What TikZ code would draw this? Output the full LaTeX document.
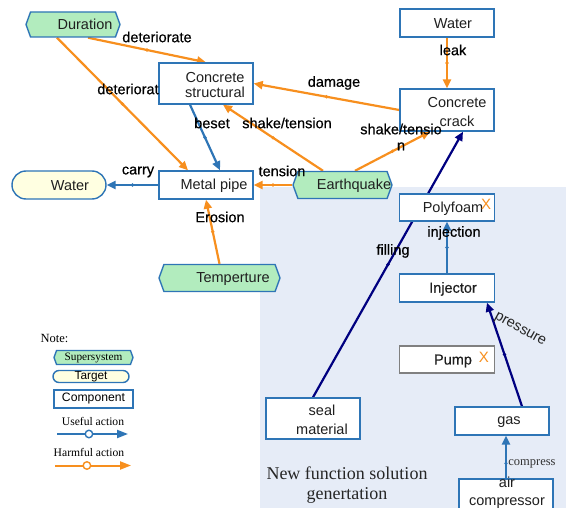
\documentclass[tikz,border=0pt]{standalone}
\usepackage{fontspec}
\setmainfont{Liberation Sans}
\newfontfamily\serifface{Liberation Serif}
\newfontfamily\heavyface{Liberation Sans}[FakeBold=0.5]
\usetikzlibrary{shapes.symbols,shapes.misc,arrows.meta,calc}

\definecolor{harm}{RGB}{247,143,30}
\definecolor{useful}{RGB}{46,117,182}
\definecolor{navyline}{RGB}{0,0,128}
\definecolor{sgreen}{RGB}{178,236,190}
\definecolor{tyellow}{RGB}{255,255,225}
\definecolor{bgblue}{RGB}{230,236,247}
\definecolor{pumpgray}{RGB}{128,128,128}

\pgfdeclarelayer{back}
\pgfdeclarelayer{edges}
\pgfsetlayers{back,edges,main}

\tikzset{
  comp/.style={draw=useful, fill=white, line width=1.4pt, inner sep=0pt,
    minimum width=94pt, minimum height=28pt},
  supsys/.style={shape=signal, signal to=west and east, signal pointer angle=140,
    draw=useful, fill=sgreen, line width=1.4pt, inner sep=0pt,
    minimum width=94pt, minimum height=27pt},
  target/.style={shape=rounded rectangle, draw=useful, fill=tyellow,
    line width=1.4pt, inner sep=0pt, minimum width=94pt, minimum height=28pt},
  boxtext/.style={font=\fontsize{14.5}{18.5}\selectfont, align=center,
    inner sep=0pt, text=black!88},
  lbl/.style={font=\heavyface\fontsize{14.5}{16}\selectfont, inner sep=0pt,
    align=center},
  dot/.style={circle, fill, inner sep=0pt, minimum size=3.6pt},
  tip/.style={-{Triangle[length=9pt,width=8pt]}},
  harmful/.style={color=harm, line width=2.2pt, tip},
  usefularr/.style={color=useful, line width=2.2pt, tip},
  navyarr/.style={color=navyline, line width=2.2pt, tip},
  xmark/.style={text=harm, font=\fontsize{15}{15}\selectfont, inner sep=0pt},
  legendtext/.style={font=\serifface\fontsize{11.6}{13}\selectfont, inner sep=0pt},
  ring/.style={circle, draw, fill=white, line width=1.4pt, minimum size=7.5pt, inner sep=0pt},
}

\begin{document}
\begin{tikzpicture}[x=1pt,y=-1pt]
\useasboundingbox (0,0) rectangle (566,508);

% shaded area of the new solution
\begin{pgfonlayer}{back}
  \fill[bgblue] (260,187) rectangle (566,508);
\end{pgfonlayer}

% supersystem elements
\node[supsys, minimum height=25pt] (dur) at (73,24.5) {};
\node[boxtext] (durt) at (85,24.5) {Duration};
\node[supsys, minimum width=99pt] (quake) at (342.5,185) {};
\node[boxtext] (quaket) at (354,186) {Earthquake};
\node[supsys, minimum width=121pt] (temp) at (219.5,278) {};
\node[boxtext] (tempt) at (233,279) {Temperture};

% target
\node[target] (wtarget) at (59,185) {};
\node[boxtext] (wtargett) at (70,186) {Water};

% components
\node[comp, minimum height=41pt] (cs) at (206,83.5) {};
\node[boxtext, font=\fontsize{14.5}{15.5}\selectfont] (cst) at (215,85) {Concrete\\structural};
\node[comp] (wtop) at (447,23) {};
\node[boxtext] (wtopt) at (453,24) {Water};
\node[comp, minimum height=42pt] (crack) at (447,110) {};
\node[boxtext] (crackt) at (457,112) {Concrete\\crack};
\node[comp] (pipe) at (206,185) {};
\node[boxtext] (pipet) at (214,186) {Metal pipe};
\node[comp, minimum width=95pt, minimum height=27pt] (poly) at (447,207.5) {};
\node[boxtext] (polyt) at (453,208.5) {Polyfoam};
\node[xmark] (polyx) at (486,204) {X};
\node[comp, minimum width=95pt] (inj) at (447,288) {};
\node[boxtext, font=\heavyface\fontsize{14.5}{18.5}\selectfont] (injt) at (453,289) {Injector};
\node[comp, draw=pumpgray, minimum width=95pt, minimum height=27pt] (pump) at (447,359.5) {};
\node[boxtext, font=\heavyface\fontsize{14.5}{18.5}\selectfont] (pumpt) at (453,361) {Pump};
\node[xmark] (pumpx) at (484,357) {X};
\node[comp, minimum height=41pt] (seal) at (313,418.5) {};
\node[boxtext] (sealt) at (322,420) {seal\\material};
\node[comp] (gas) at (502,421) {};
\node[boxtext] (gast) at (509,422) {gas};
\node[comp, minimum height=41pt] (air) at (506,499.5) {};
\node[boxtext] (airt) at (507,493) {air\\compressor};

% actions
\begin{pgfonlayer}{edges}
  \draw[harmful] ($(dur.south)+(15,0)$) -- node[dot]{} (cs.north);
  \draw[harmful] ($(dur.south)+(-16,0)$) -- node[dot]{} ($(pipe.north)+(-18,0)$);
  \draw[usefularr] ($(cs.south)+(-16,0)$) -- node[dot]{} ($(pipe.north)+(14,0)$);
  \draw[harmful] ($(quake.north)+(-19.5,0)$) -- node[dot]{} ($(cs.south)+(17,0)$);
  \draw[harmful] (crack.west) -- node[dot]{} (cs.east);
  \draw[harmful] ($(quake.north)+(12.5,0)$) -- node[dot]{} ($(crack.south)+(-17,0)$);
  \draw[harmful] (wtop.south) -- node[dot]{} (crack.north);
  \draw[harmful] (quake.west) -- node[dot]{} (pipe.east);
  \draw[usefularr] (pipe.west) -- node[dot]{} (wtarget.east);
  \draw[harmful] (temp.north) -- node[dot]{} (pipe.south);
  \draw[navyarr] (seal.north) -- node[dot]{} ($(crack.south)+(16,0)$);
  \draw[usefularr] (inj.north) -- node[dot]{} (poly.south);
  \draw[navyarr] ($(gas.north)+(20,0)$) -- node[dot]{} ($(inj.south)+(40,0)$);
  \draw[usefularr] (air.north) -- node[dot, pos=0.35]{} ($(gas.south)+(4,0)$);
\end{pgfonlayer}

% action labels
\node[lbl] (l1) at (157,37) {deteriorate};
\node[lbl] (l2) at (128,89) {deteriorat};
\node[lbl] (l3) at (212,123) {beset};
\node[lbl] (l4) at (287,123) {shake/tension};
\node[lbl] (l5) at (334,83) {damage};
\node[lbl] (l6) at (401,137) {shake/tensio\\n};
\node[lbl] (l7) at (453,50) {leak};
\node[lbl] (l8) at (282,171) {tension};
\node[lbl] (l9) at (138,172) {carry};
\node[lbl] (l10) at (220,217) {Erosion};
\node[lbl] (l11) at (393,251) {filling};
\node[lbl] (l12) at (454,233) {injection};
\node[inner sep=0pt, rotate=-29, text=black!85, font=\fontsize{14.5}{16}\selectfont] (l13) at (520,330) {pressure};
\node[inner sep=0pt, text=black!80, font=\serifface\fontsize{12.5}{13}\selectfont] (l14) at (532,464) {compress};

\node[inner sep=0pt, align=center, text=black!85, font=\serifface\fontsize{18}{20}\selectfont] (caption) at (347,485) {New function solution\\genertation};

% legend
\node[legendtext, font=\serifface\fontsize{12.5}{13}\selectfont] (note) at (54.5,338) {Note:};
\node[supsys, minimum width=79pt, minimum height=14pt, font=\serifface\fontsize{11.3}{12}\selectfont] (lgs) at (93.5,357.5) {Supersystem};
\node[target, minimum width=76pt, minimum height=12pt, font=\fontsize{11.8}{12}\selectfont] (lgt) at (91,376.5) {Target};
\node[comp, minimum width=79pt, minimum height=18pt, font=\fontsize{12.2}{13}\selectfont] (lgc) at (93.5,399) {Component};
\node[legendtext] (lgu) at (93,421) {Useful action};
\node[legendtext] (lgh) at (89,452) {Harmful action};
\coordinate (ua) at (57,434);
\coordinate (ub) at (128,434);
\coordinate (ha) at (55,465.5);
\coordinate (hb) at (131,465.5);
\draw[color=useful, line width=2pt, -{Triangle[length=11pt,width=8pt]}] (ua) -- node[ring, pos=0.45] (uring) {} (ub);
\draw[color=harm, line width=2pt, -{Triangle[length=11pt,width=8pt]}] (ha) -- node[ring, pos=0.42] (hring) {} (hb);
\end{tikzpicture}
\end{document}
